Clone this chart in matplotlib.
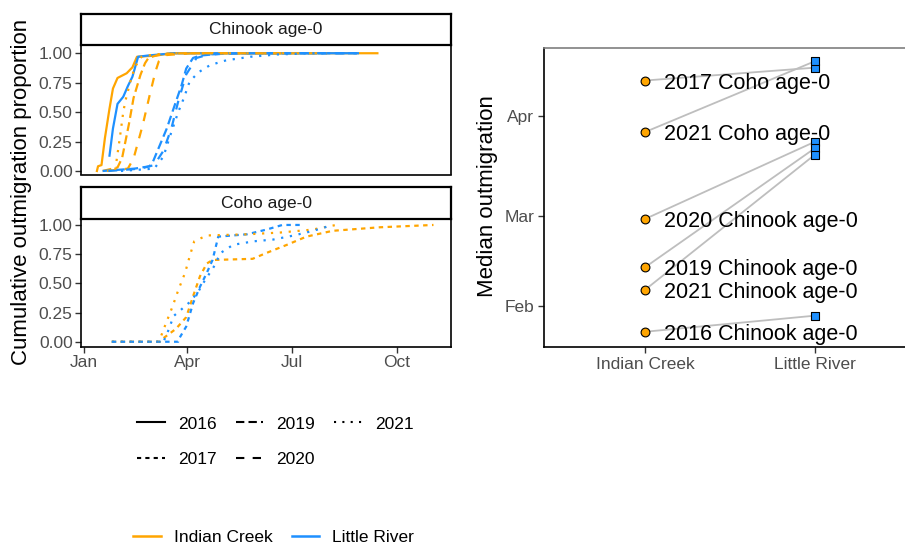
import matplotlib
matplotlib.use("Agg")
import matplotlib.pyplot as plt
from matplotlib.lines import Line2D
import pandas as pd

plt.rcParams['font.family'] = ['Liberation Sans', 'DejaVu Sans']

# all dates are put on one common (non-leap) year so seasons line up
YEAR = "2021"

# ---- cumulative outmigration, Chinook age-0 ----
ck16_ic_dates = ["01-12", "01-13", "01-16", "01-19", "01-23", "01-26", "01-30", "02-07", "02-12", "02-16", "03-05", "03-17", "09-14"]
ck16_ic_prop = [0.0, 0.04, 0.05, 0.28, 0.53, 0.70, 0.79, 0.83, 0.88, 0.97, 0.98, 1.0, 1.0]
ck16_lr_dates = ["01-23", "01-26", "01-30", "02-04", "02-08", "02-12", "02-17", "02-25", "03-08", "03-21", "08-28"]
ck16_lr_prop = [0.13, 0.36, 0.57, 0.63, 0.72, 0.80, 0.97, 0.98, 0.99, 1.0, 1.0]
ck19_ic_dates = ["01-17", "01-30", "02-03", "02-09", "02-13", "02-19", "02-23", "02-26", "03-06", "03-26", "07-01"]
ck19_ic_prop = [0.0, 0.03, 0.11, 0.40, 0.62, 0.815, 0.915, 0.96, 0.985, 1.0, 1.0]
ck19_lr_dates = ["01-17", "02-14", "02-27", "03-02", "03-08", "03-14", "03-21", "03-27", "03-31", "04-06", "04-12", "05-05", "08-27"]
ck19_lr_prop = [0.0, 0.02, 0.04, 0.08, 0.22, 0.36, 0.56, 0.73, 0.87, 0.96, 0.98, 1.0, 1.0]
ck20_ic_dates = ["01-21", "02-08", "02-13", "02-21", "02-27", "03-04", "03-07", "03-14", "04-05", "08-01"]
ck20_ic_prop = [0.0, 0.02, 0.105, 0.39, 0.64, 0.84, 0.93, 0.985, 1.0, 1.0]
ck20_lr_dates = ["01-22", "02-19", "03-03", "03-11", "03-18", "03-24", "03-31", "04-09", "04-20", "05-20", "08-27"]
ck20_lr_prop = [0.0, 0.02, 0.05, 0.17, 0.36, 0.59, 0.82, 0.96, 0.99, 1.0, 1.0]
ck21_ic_dates = ["01-28", "02-01", "02-04", "02-06", "02-10", "02-14", "02-20", "03-03", "03-21", "06-30"]
ck21_ic_prop = [0.01, 0.28, 0.50, 0.60, 0.75, 0.88, 0.97, 0.99, 1.0, 1.0]
ck21_lr_dates = ["02-02", "03-03", "03-11", "03-17", "03-24", "03-29", "04-03", "04-11", "04-21", "05-05", "05-26", "06-19", "07-19", "08-03"]
ck21_lr_prop = [0.0, 0.02, 0.12, 0.30, 0.50, 0.62, 0.76, 0.84, 0.90, 0.94, 0.97, 0.99, 1.0, 1.0]

# ---- cumulative outmigration, Coho age-0 ----
co17_ic_dates = ["01-25", "03-08", "03-11", "03-22", "03-31", "04-06", "04-12", "04-18", "04-23", "05-28", "06-09", "06-27", "07-14", "08-06", "09-16", "11-02"]
co17_ic_prop = [0.0, 0.0, 0.03, 0.11, 0.21, 0.39, 0.56, 0.67, 0.70, 0.71, 0.76, 0.83, 0.90, 0.95, 0.98, 1.0]
co17_lr_dates = ["01-25", "03-24", "03-25", "03-31", "04-06", "04-12", "04-18", "04-23", "04-28", "05-23", "06-09", "06-23", "07-11"]
co17_lr_prop = [0.0, 0.0, 0.03, 0.13, 0.33, 0.47, 0.59, 0.70, 0.90, 0.92, 0.96, 1.0, 1.0]
co21_ic_dates = ["01-25", "03-06", "03-08", "03-11", "03-19", "03-24", "03-30", "04-03", "04-07", "04-18", "05-23", "06-21", "07-19", "08-09"]
co21_ic_prop = [0.0, 0.0, 0.02, 0.10, 0.30, 0.44, 0.59, 0.73, 0.86, 0.91, 0.92, 0.935, 0.96, 1.0]
co21_lr_dates = ["01-25", "03-11", "03-14", "03-20", "03-26", "04-02", "04-10", "04-16", "04-24", "04-30", "05-11", "05-29", "06-15", "07-03", "07-20", "08-06"]
co21_lr_prop = [0.0, 0.0, 0.06, 0.22, 0.27, 0.33, 0.42, 0.52, 0.64, 0.76, 0.83, 0.86, 0.875, 0.91, 0.95, 1.0]

# ---- median outmigration dates ----
median_labels = ["2017 Coho age-0", "2021 Coho age-0", "2020 Chinook age-0",
                 "2019 Chinook age-0", "2021 Chinook age-0", "2016 Chinook age-0"]
median_ic = ["04-12", "03-27", "02-28", "02-13", "02-06", "01-24"]
median_lr = ["04-16", "04-18", "03-24", "03-22", "03-20", "01-29"]

sites = ["Indian Creek", "Little River"]
years = ["2016", "2017", "2019", "2020", "2021"]

site_colors = {"Indian Creek": "#FFA500", "Little River": "#1E90FF"}
year_styles = {"2016": "-", "2017": (0, (2, 2)), "2019": (0, (4, 2)),
               "2020": (0, (4, 4)), "2021": (0, (1, 3))}


def to_dates(md):
    return pd.to_datetime([f"{YEAR}-{d}" for d in md])


def day(md):
    return pd.Timestamp(f"{YEAR}-{md}")


chinook = [("2016", "Indian Creek", ck16_ic_dates, ck16_ic_prop),
           ("2016", "Little River", ck16_lr_dates, ck16_lr_prop),
           ("2019", "Indian Creek", ck19_ic_dates, ck19_ic_prop),
           ("2019", "Little River", ck19_lr_dates, ck19_lr_prop),
           ("2020", "Indian Creek", ck20_ic_dates, ck20_ic_prop),
           ("2020", "Little River", ck20_lr_dates, ck20_lr_prop),
           ("2021", "Indian Creek", ck21_ic_dates, ck21_ic_prop),
           ("2021", "Little River", ck21_lr_dates, ck21_lr_prop)]
coho = [("2017", "Indian Creek", co17_ic_dates, co17_ic_prop),
        ("2017", "Little River", co17_lr_dates, co17_lr_prop),
        ("2021", "Indian Creek", co21_ic_dates, co21_ic_prop),
        ("2021", "Little River", co21_lr_dates, co21_lr_prop)]

W, H = 905, 545
fig = plt.figure(figsize=(W / 100, H / 100), dpi=100)


def box(x0, y0, x1, y1):
    # pixel box (top-left origin) -> figure fraction rect
    return [x0 / W, 1 - y1 / H, (x1 - x0) / W, (y1 - y0) / H]


tick_col = "#4D4D4D"
TICK_FS = 12.5
TITLE_FS = 16

ax_top = fig.add_axes(box(81, 45, 451, 174.5))
ax_bot = fig.add_axes(box(81, 219, 451, 347))
strip_top = fig.add_axes(box(81, 14, 451, 45))
strip_bot = fig.add_axes(box(81, 187, 451, 219))

for strip, txt in [(strip_top, "Chinook age-0"), (strip_bot, "Coho age-0")]:
    strip.set_xticks([])
    strip.set_yticks([])
    for s in strip.spines.values():
        s.set_linewidth(1.6)
        s.set_color("black")
    strip.text(0.5, 0.5, txt, ha="center", va="center", fontsize=12.5,
               color="#1A1A1A", transform=strip.transAxes)

xlo = day("01-01") - pd.Timedelta(days=2.9)
xhi = day("01-01") + pd.Timedelta(days=320.3)
xticks = [day("01-01"), day("04-01"), day("07-01"), day("10-01")]

for ax, data, ylim in [(ax_top, chinook, (-0.03, 1.07)), (ax_bot, coho, (-0.045, 1.051))]:
    for yr, site, d, p in data:
        ax.plot(to_dates(d), p, color=site_colors[site], linestyle=year_styles[yr],
                linewidth=1.6)
    ax.set_xlim(xlo, xhi)
    ax.set_ylim(*ylim)
    ax.set_yticks([0, 0.25, 0.5, 0.75, 1.0])
    ax.set_yticklabels(["0.00", "0.25", "0.50", "0.75", "1.00"])
    ax.set_xticks(xticks)
    for s in ax.spines.values():
        s.set_linewidth(1.2)
        s.set_color("black")
    ax.tick_params(axis="both", length=4, width=1, color="#333333",
                   labelsize=TICK_FS, labelcolor=tick_col, pad=2)

ax_top.tick_params(axis="x", bottom=False, labelbottom=False)
ax_bot.set_xticklabels(["Jan", "Apr", "Jul", "Oct"])

fig.text(22 / W, 1 - 192 / H, "Cumulative outmigration proportion", rotation=90,
         ha="center", va="center", fontsize=TITLE_FS)

# ---- median outmigration panel ----
ax_med = fig.add_axes(box(544, 48, 905, 347))
ic_days = to_dates(median_ic)
lr_days = to_dates(median_lr)
for a, b in zip(ic_days, lr_days):
    ax_med.plot([1, 2], [a, b], color="#BEBEBE", linewidth=1.3, zorder=1)
ax_med.scatter([1] * len(ic_days), ic_days, s=40, marker="o", color=site_colors["Indian Creek"],
               edgecolor="black", linewidth=0.8, zorder=3)
ax_med.scatter([2] * len(lr_days), lr_days, s=34, marker="s", color=site_colors["Little River"],
               edgecolor="black", linewidth=0.8, zorder=3)
for lab, d in zip(median_labels, ic_days):
    ax_med.annotate(lab, (1, d), xytext=(13.5, 0), textcoords="offset points",
                    ha="left", va="center_baseline", fontsize=15.5, color="black", zorder=4)

ax_med.set_xlim(0.406, 2.53)
ax_med.set_ylim(day("01-01") + pd.Timedelta(days=18.27), day("01-01") + pd.Timedelta(days=111.1))
ax_med.set_xticks([1, 2])
ax_med.set_xticklabels(sites)
ax_med.set_yticks([day("02-01"), day("03-01"), day("04-01")])
ax_med.set_yticklabels(["Feb", "Mar", "Apr"])
ax_med.tick_params(axis="both", length=4, width=1, color="#333333",
                   labelsize=TICK_FS, labelcolor=tick_col, pad=3)
ax_med.spines["right"].set_visible(False)
ax_med.spines["left"].set_linewidth(1.2)
ax_med.spines["bottom"].set_linewidth(1.2)
ax_med.spines["top"].set_color("#7F7F7F")
ax_med.spines["top"].set_linewidth(1.2)

fig.text(487 / W, 1 - 196 / H, "Median outmigration", rotation=90,
         ha="center", va="center", fontsize=TITLE_FS)

# ---- legends ----
lt_handles = [Line2D([], [], color="black", linestyle=year_styles[y], linewidth=1.5) for y in years]
fig.legend(lt_handles, years, loc="center left", bbox_to_anchor=(137 / W, 1 - 441.5 / H),
           ncol=3, frameon=False, fontsize=TICK_FS, handlelength=1.6,
           handletextpad=0.75, columnspacing=1.1, labelspacing=1.15, borderpad=0,
           borderaxespad=0)

col_handles = [Line2D([], [], color=site_colors[s], linewidth=1.8) for s in sites]
fig.legend(col_handles, sites, loc="center left", bbox_to_anchor=(133 / W, 1 - 537 / H),
           ncol=2, frameon=False, fontsize=TICK_FS, handlelength=1.6,
           handletextpad=0.75, columnspacing=1.1, borderpad=0, borderaxespad=0)

fig.savefig("out.png", dpi=100)
